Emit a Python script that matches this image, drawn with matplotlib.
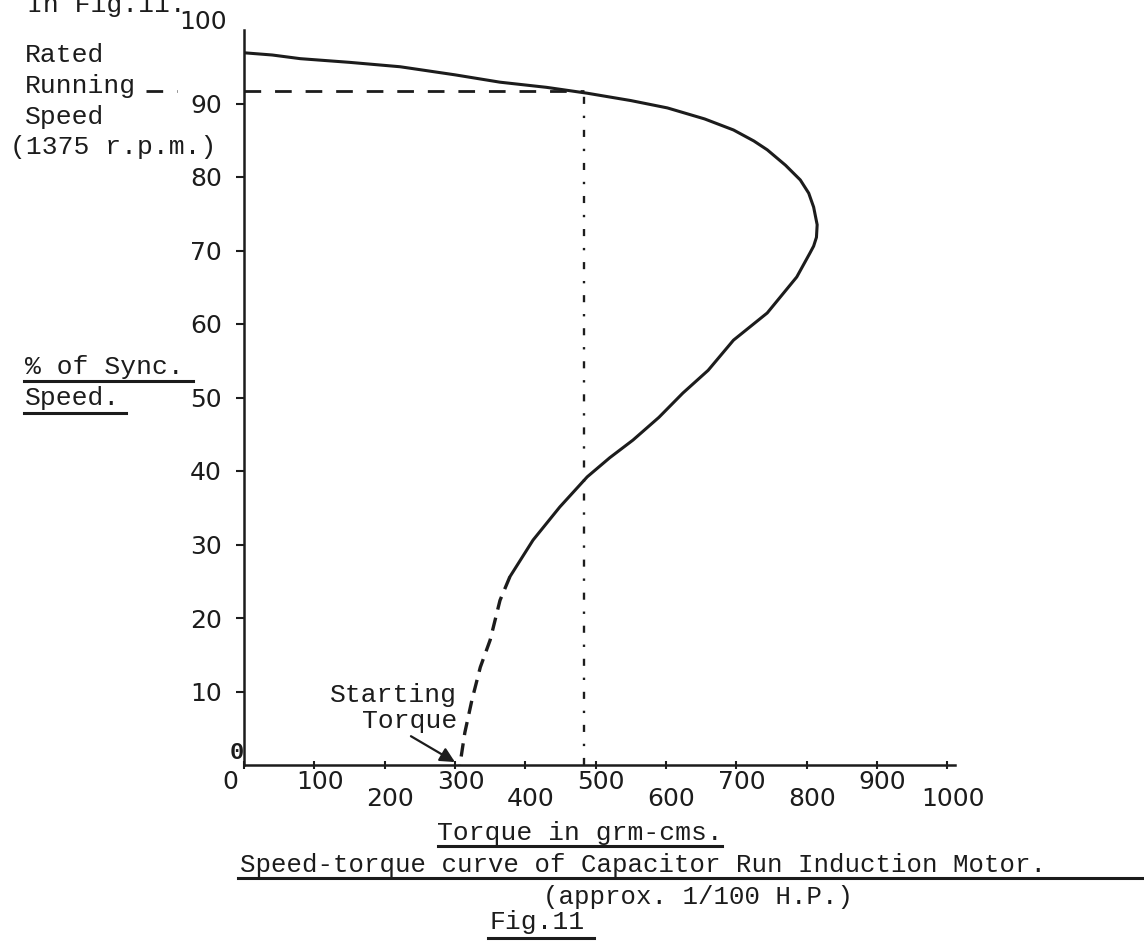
import matplotlib
matplotlib.use("Agg")
import matplotlib.pyplot as plt
from matplotlib.lines import Line2D

# values
torque = [0, 40, 80, 150, 222, 300, 364, 430, 488, 550, 602, 655, 696, 725, 744,
          770, 791, 803, 810, 815, 814, 810, 805, 786, 744, 696, 660, 624, 590,
          553, 520, 488, 449, 411, 378]
speed = [96.9, 96.6, 96.1, 95.6, 95.0, 93.9, 92.9, 92.2, 91.4, 90.4, 89.4, 87.9,
         86.4, 84.9, 83.7, 81.6, 79.6, 77.8, 75.9, 73.5, 71.8, 70.6, 69.7, 66.4,
         61.5, 57.8, 53.7, 50.6, 47.3, 44.2, 41.8, 39.2, 35.1, 30.6, 25.6]
# lower part, drawn broken in the original
torque_low = [378, 364, 350, 336, 324, 314, 307]
speed_low = [25.6, 22.4, 17.0, 13.3, 8.8, 4.4, 0]

rated_torque = 483
rated_speed = 91.7
starting_torque = 300

x_ticks = [0, 100, 200, 300, 400, 500, 600, 700, 800, 900, 1000]
x_low_row = [200, 400, 600, 800, 1000]
y_ticks = [10, 20, 30, 40, 50, 60, 70, 80, 90]

ink = "#1c1c1c"
mono = "Liberation Mono"
W, H = 1144, 943

fig = plt.figure(figsize=(W / 100, H / 100), dpi=100)
ax = fig.add_axes([244 / W, 1 - 765 / H, (955 - 244) / W, (765 - 30) / H])
ax.set_xlim(0, 1011)
ax.set_ylim(0, 100)

ax.plot(torque, speed, color=ink, lw=2.2, solid_capstyle="round",
        solid_joinstyle="round")
ax.plot(torque_low, speed_low, color=ink, lw=2.4, linestyle=(0, (4, 2.5)))

# rated running point
ax.plot([0, rated_torque], [rated_speed, rated_speed], color=ink, lw=2,
        linestyle=(0, (6, 5)))
ax.plot([-140, -95], [rated_speed, rated_speed], color=ink, lw=2,
        linestyle=(0, (6, 5)), clip_on=False)
ax.plot([rated_torque, rated_torque], [0, rated_speed], color=ink, lw=1.7,
        linestyle=(0, (3, 5, 1, 5)))

for s in ["top", "right"]:
    ax.spines[s].set_visible(False)
for s in ["left", "bottom"]:
    ax.spines[s].set_linewidth(1.8)
    ax.spines[s].set_color(ink)

ax.set_yticks(y_ticks)
ax.set_yticklabels([str(v) for v in y_ticks], fontsize=18, family="DejaVu Sans",
                   color=ink)
ax.tick_params(axis="y", length=6, width=1.5, pad=10, color=ink)
ax.set_xticks(x_ticks)
ax.set_xticklabels([])
ax.tick_params(axis="x", direction="inout", length=6, width=1.5, color=ink)

for t in x_ticks:
    dy = -24.5 if t in x_low_row else -12
    dx = -10 if t == 0 else 4
    ax.annotate(str(t), xy=(t, 0), xycoords=("data", "axes fraction"),
                xytext=(dx, dy), textcoords="offset points", ha="center",
                va="center", fontsize=18, family="DejaVu Sans", color=ink)

ax.annotate("100", xy=(0, 100), xycoords="data", xytext=(-12, 6),
            textcoords="offset points", ha="right", va="center", fontsize=18,
            family="DejaVu Sans", color=ink, annotation_clip=False)
ax.annotate("0", xy=(0, 0), xycoords="data", xytext=(-5, 9),
            textcoords="offset points", ha="center", va="center", fontsize=17,
            family=mono, weight="bold", color=ink, annotation_clip=False)

ax.annotate("Starting\nTorque", xy=(starting_torque, 0.4), xytext=(457, H - 708),
            textcoords="figure pixels", ha="right", va="center",
            multialignment="right", fontsize=19, family=mono, color=ink,
            linespacing=1.15,
            arrowprops=dict(arrowstyle="-|>", color=ink, lw=1.6,
                            mutation_scale=22, shrinkA=0, shrinkB=0,
                            relpos=(0.6, 0)))


def ftext(x, y, s, **kw):
    kw.setdefault("family", mono)
    kw.setdefault("fontsize", 19)
    kw.setdefault("color", ink)
    fig.text(x / W, 1 - y / H, s, **kw)


def uline(x0, x1, y, lw=2.2):
    fig.add_artist(Line2D([x0 / W, x1 / W], [1 - y / H, 1 - y / H],
                          transform=fig.transFigure, color=ink, lw=lw))


ftext(27, 12, "In Fig.11.", va="baseline")
ftext(25, 55, "Rated", va="center")
ftext(25, 86, "Running", va="center")
ftext(25, 117, "Speed", va="center")
ftext(10, 147, "(1375 r.p.m.)", va="center")
ftext(25, 367, "% of Sync.", va="center")
ftext(25, 398, "Speed.", va="center")
uline(24, 193, 381)
uline(24, 126, 413)

ftext(580, 833, "Torque in grm-cms.", ha="center", va="center")
uline(438, 722, 846)
ftext(240, 865, "Speed-torque curve of Capacitor Run Induction Motor.",
      ha="left", va="center", fontsize=18.5)
uline(238, 1144, 878)
ftext(543, 897, "(approx. 1/100 H.P.)", ha="left", va="center", fontsize=18.5)
ftext(490, 922, "Fig.11", ha="left", va="center")
uline(488, 594, 938)

fig.savefig("out.png", dpi=100, facecolor="white")
